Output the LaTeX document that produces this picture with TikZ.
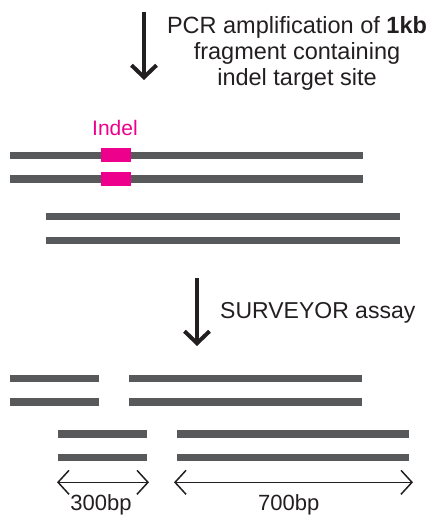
\documentclass[tikz,border=0pt]{standalone}
\usepackage{fontspec}
\setmainfont{Liberation Sans}
\usetikzlibrary{arrows.meta}
\definecolor{dna}{HTML}{58595B}
\definecolor{indelc}{HTML}{EC008C}
\definecolor{ink}{HTML}{231F20}
\begin{document}
\begin{tikzpicture}[x=1pt,y=-1pt,
  strand/.style={draw=dna,line width=7.5pt,line cap=butt},
  bigarrow/.style={draw=ink,line width=4pt,-{Straight Barb[length=12pt,width=25pt]}},
  dimarrow/.style={draw=ink,line width=1.5pt,{Straight Barb[length=11pt,width=24pt]}-{Straight Barb[length=11pt,width=24pt]}},
  lbl/.style={font=\fontsize{22}{26}\selectfont,text=ink,inner sep=0pt}]
\useasboundingbox (0,0) rectangle (431,518);
% top arrow and text
\coordinate (a1s) at (144,12);
\coordinate (a1e) at (144,80);
\draw[bigarrow] (a1s) -- (a1e);
\node[lbl,align=center,anchor=base,font=\fontsize{23.5}{26}\selectfont] (pcr) at (297,86) {PCR amplification of \textbf{1kb}\\fragment containing\\indel target site};
% indel label
\node[lbl,text=indelc,anchor=base,font=\fontsize{21}{25}\selectfont] (indel) at (115,136) {Indel};
% heteroduplex strands
\draw[strand] (10,155.5) -- (363,155.5);
\draw[strand] (10,179) -- (363,179);
\draw[strand] (46,216.7) -- (400,216.7);
\draw[strand] (46,240.3) -- (400,240.3);
\fill[indelc] (101,148.3) rectangle (131,161.7);
\fill[indelc] (101,172.3) rectangle (131,185.7);
% surveyor arrow
\coordinate (a2s) at (197,278);
\coordinate (a2e) at (197,346);
\draw[bigarrow] (a2s) -- (a2e);
\node[lbl,anchor=base west,font=\fontsize{23}{26}\selectfont] (surv) at (220,318) {SURVEYOR assay};
% cleaved strands
\draw[strand] (10,378.3) -- (99,378.3);
\draw[strand] (129,378.3) -- (362,378.3);
\draw[strand] (10,402) -- (99,402);
\draw[strand] (129,402) -- (362,402);
\draw[strand] (58,434) -- (147,434);
\draw[strand] (177,434) -- (409,434);
\draw[strand] (58,457.7) -- (147,457.7);
\draw[strand] (177,457.7) -- (409,457.7);
% dimension arrows
\coordinate (d1l) at (57,482.3);
\coordinate (d1r) at (149,482.3);
\coordinate (d2l) at (174,482.3);
\coordinate (d2r) at (413,482.3);
\draw[dimarrow] (d1l) -- (d1r);
\draw[dimarrow] (d2l) -- (d2r);
\node[lbl,anchor=base] (bp300) at (101,510) {300bp};
\node[lbl,anchor=base] (bp700) at (288.7,510) {700bp};
\end{tikzpicture}
\end{document}
